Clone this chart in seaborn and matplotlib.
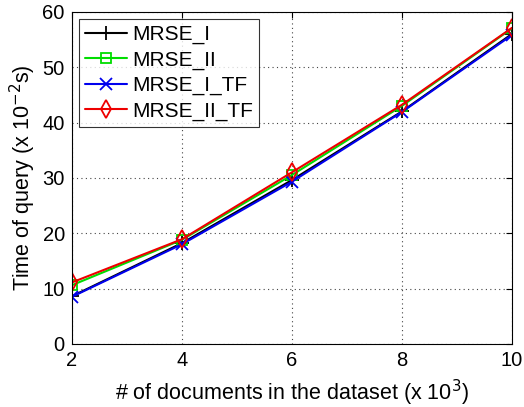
import matplotlib
matplotlib.use("Agg")
import matplotlib.pyplot as plt
import seaborn as sns
import pandas as pd

docs = [2, 4, 6, 8, 10]
mrse_i = [8.6, 18.2, 29.6, 42.0, 56.0]
mrse_ii = [10.6, 18.8, 30.5, 43.0, 57.0]
mrse_i_tf = [8.5, 18.0, 29.3, 41.9, 55.8]
mrse_ii_tf = [11.1, 18.9, 31.0, 43.2, 57.1]

series_names = ["MRSE_I", "MRSE_II", "MRSE_I_TF", "MRSE_II_TF"]
series_values = [mrse_i, mrse_ii, mrse_i_tf, mrse_ii_tf]
colors = ["black", "#00dd00", "#0000ee", "#ee0000"]
markers = ["+", "s", "x", "d"]
marker_sizes = [10, 7, 8, 9]

sns.set_style("white")
plt.rcParams["font.family"] = ["Liberation Sans", "DejaVu Sans"]
plt.rcParams["text.color"] = "black"
plt.rcParams["axes.labelcolor"] = "black"
plt.rcParams["xtick.color"] = "black"
plt.rcParams["ytick.color"] = "black"

fig = plt.figure(figsize=(5.24, 4.07), dpi=100)
ax = fig.add_axes([0.137, 0.155, 0.840, 0.816])

for name, vals, c, m, ms in zip(series_names, series_values, colors, markers, marker_sizes):
    df = pd.DataFrame({"x": docs, "y": vals})
    hollow = m in ("s", "d")
    sns.lineplot(data=df, x="x", y="y", ax=ax, color=c, label=name,
                 marker=m, markersize=ms,
                 markerfacecolor="none" if hollow else c,
                 markeredgecolor=c, markeredgewidth=1.3, linewidth=1.5)

ax.set_xlim(2, 10)
ax.set_ylim(0, 60)
ax.set_xticks(docs)
ax.set_yticks(range(0, 61, 10))
ax.grid(True, linestyle=(0, (1, 3)), color="#444444", linewidth=0.8)
ax.tick_params(direction="in", labelsize=14.5, length=4, top=True, right=True)
ax.tick_params(axis="x", pad=5)
ax.tick_params(axis="y", pad=5)
for s in ax.spines.values():
    s.set_visible(True)
    s.set_color("black")
    s.set_linewidth(0.8)

ax.set_xlabel("# of documents in the dataset (x 10$^3$)", fontsize=15.5, labelpad=6)
ax.set_ylabel("Time of query (x 10$^{-2}$s)", fontsize=15.5, labelpad=3)

leg = ax.legend(loc="upper left", fontsize=15, frameon=True, fancybox=False,
                edgecolor="black", handlelength=2.0, borderpad=0.3,
                labelspacing=0.3, handletextpad=0.25, borderaxespad=0.33)
leg.get_frame().set_linewidth(0.8)

fig.savefig("out.png", dpi=100)
